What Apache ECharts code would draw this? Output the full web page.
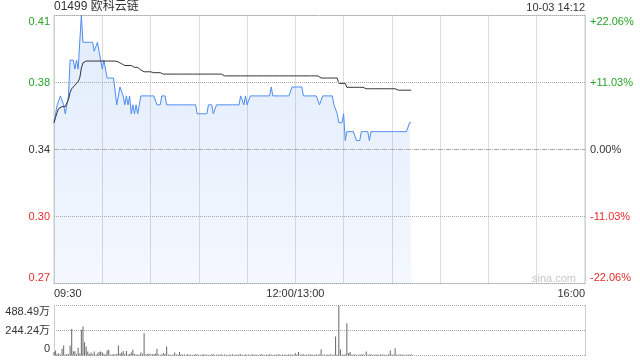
<!DOCTYPE html>
<html><head><meta charset="utf-8">
<script src="https://cdn.jsdelivr.net/npm/echarts@6/dist/echarts.min.js"></script>
<style>html,body{margin:0;padding:0;background:#fff}#c{width:640px;height:360px}</style>
</head><body><div id="c"></div>
<script>
// minute-by-minute last price (09:30 ... 14:12)
const prices = [
0.355,0.360,0.365,0.365,0.370,0.370,0.365,0.360,0.360,0.370,
0.390,0.390,0.390,0.385,0.390,0.385,0.400,0.415,0.400,0.400,
0.400,0.400,0.400,0.400,0.400,0.395,0.395,0.400,0.395,0.390,
0.385,0.390,0.385,0.380,0.380,0.380,0.380,0.380,0.380,0.365,
0.365,0.375,0.375,0.370,0.365,0.370,0.365,0.370,0.360,0.365,
0.360,0.365,0.360,0.365,0.370,0.370,0.370,0.370,0.370,0.370,
0.370,0.370,0.370,0.370,0.365,0.365,0.365,0.370,0.370,0.370,
0.365,0.365,0.365,0.365,0.365,0.365,0.365,0.365,0.365,0.365,
0.365,0.365,0.365,0.365,0.365,0.365,0.365,0.365,0.365,0.360,
0.360,0.360,0.360,0.360,0.360,0.360,0.365,0.365,0.365,0.360,
0.360,0.365,0.365,0.365,0.365,0.365,0.365,0.365,0.365,0.365,
0.365,0.365,0.365,0.365,0.365,0.365,0.370,0.370,0.365,0.370,
0.365,0.365,0.370,0.370,0.370,0.370,0.370,0.370,0.370,0.370,
0.370,0.370,0.370,0.370,0.370,0.375,0.370,0.370,0.370,0.370,
0.370,0.370,0.370,0.370,0.370,0.370,0.370,0.370,0.375,0.375,
0.375,0.375,0.375,0.375,0.375,0.370,0.370,0.370,0.370,0.370,
0.370,0.370,0.370,0.370,0.370,0.365,0.365,0.370,0.370,0.370,
0.370,0.370,0.370,0.370,0.365,0.365,0.360,0.355,0.355,0.355,
0.360,0.345,0.350,0.350,0.350,0.350,0.350,0.350,0.345,0.345,
0.345,0.350,0.350,0.350,0.350,0.350,0.345,0.350,0.350,0.350,
0.350,0.350,0.350,0.350,0.350,0.350,0.350,0.350,0.350,0.350,
0.350,0.350,0.350,0.350,0.350,0.350,0.350,0.350,0.350,0.350,
0.350,0.355,0.355
];
// running average price
const avgPrices = [
0.355,0.358,0.361,0.363,0.364,0.364,0.364,0.364,0.364,0.368,
0.372,0.374,0.375,0.376,0.377,0.378,0.380,0.3855,0.3885,0.3895,
0.3895,0.3895,0.3895,0.3895,0.3895,0.3895,0.3895,0.3895,0.3895,0.3895,
0.3895,0.3895,0.3895,0.3895,0.3895,0.3895,0.3895,0.3895,0.3895,0.389,
0.389,0.388,0.388,0.388,0.387,0.387,0.387,0.387,0.387,0.386,
0.386,0.386,0.386,0.3855,0.3845,0.3845,0.3835,0.3835,0.3835,0.3835,
0.3835,0.383,0.383,0.383,0.383,0.383,0.383,0.383,0.3822,0.3822,
0.3822,0.3822,0.3822,0.3822,0.3822,0.3822,0.3822,0.3822,0.3822,0.3822,
0.3822,0.3822,0.3822,0.3822,0.3822,0.3822,0.3822,0.3822,0.3822,0.3822,
0.3822,0.3822,0.3822,0.3822,0.3822,0.3822,0.3822,0.3822,0.3822,0.3822,
0.3822,0.3822,0.3822,0.3822,0.3822,0.3812,0.3812,0.3812,0.3812,0.3812,
0.3812,0.3812,0.3812,0.3812,0.3812,0.3812,0.3812,0.3812,0.3812,0.3812,
0.3812,0.3812,0.3812,0.3812,0.3812,0.3812,0.3812,0.3812,0.3812,0.3812,
0.3812,0.3812,0.3812,0.3812,0.3812,0.3812,0.3812,0.3812,0.3812,0.3812,
0.3812,0.3812,0.3812,0.3812,0.3812,0.3812,0.3812,0.3812,0.3812,0.3812,
0.3812,0.3812,0.3812,0.3812,0.3812,0.3812,0.3812,0.3812,0.3812,0.3812,
0.3812,0.3812,0.3812,0.3812,0.3812,0.3812,0.380,0.380,0.380,0.380,
0.380,0.380,0.380,0.380,0.380,0.380,0.380,0.377,0.377,0.377,
0.377,0.377,0.3748,0.3748,0.3748,0.3748,0.3748,0.3748,0.3748,0.3748,
0.3748,0.3748,0.3748,0.3748,0.374,0.374,0.374,0.374,0.374,0.374,
0.374,0.374,0.374,0.374,0.374,0.374,0.374,0.374,0.374,0.374,
0.374,0.374,0.374,0.3732,0.3732,0.3732,0.3732,0.3732,0.3732,0.3732,
0.3732,0.3732,0.3732
];
// volume per minute, in 万
const volumes = [
33,49,15,23,10,65,98,8,16,12,
98,260,42,42,12,75,20,251,283,130,
88,40,15,30,12,40,8,20,35,40,
30,15,10,50,55,8,10,12,10,15,
98,20,30,45,15,45,10,15,30,55,
15,10,10,8,30,15,218,10,15,20,
10,15,12,20,65,10,8,10,25,15,
88,10,8,5,8,30,10,8,33,12,
8,10,6,12,8,10,6,8,12,10,
8,6,10,12,8,10,6,8,10,12,
6,8,10,8,12,6,10,8,6,10,
8,12,6,10,8,10,12,8,6,10,
8,10,6,12,8,10,8,6,10,12,
8,6,10,8,12,10,6,8,10,8,
12,6,10,8,10,6,12,8,10,8,
23,10,33,8,10,12,6,10,8,12,
8,10,6,12,8,10,59,8,10,6,
10,8,12,6,10,186,8,488.49,59,10,
8,12,316,23,33,10,8,12,6,10,
8,10,12,6,39,8,10,12,6,10,
8,10,6,12,8,10,6,8,12,49,
10,8,72,10,6,12,8,10,6,8,
10,8,12
];
const timeLabels = ['09:30','','','','','12:00/13:00','','','','','','16:00'];
const priceLabels = ['0.27','0.30','0.34','0.38','0.41'];
const pctLabels = ['-22.06%','-11.03%','0.00%','+11.03%','+22.06%'];
const volLabels = ['0','244.24万','488.49万'];
const prevClose = 0.34;
const priceStep = 0.0375;   // one grid row of price
const volMax = 488.49;
const totalMinutes = 330;

const FONT = '"Liberation Sans", Arial, "Noto Sans CJK SC", sans-serif';
const GREEN = '#2aa22a', RED = '#e62b2b', DARK = '#333';
const GRIDC = '#aaa';
const styleKeys = ['rB','r','k','g','gT'];
const rich = {
  gT:{color:GREEN,fontSize:11,fontFamily:FONT,padding:[12,0,0,0]},
  g:{color:GREEN,fontSize:11,fontFamily:FONT},
  k:{color:DARK,fontSize:11,fontFamily:FONT},
  r:{color:RED,fontSize:11,fontFamily:FONT},
  rB:{color:RED,fontSize:11,fontFamily:FONT,padding:[0,0,12,0]}
};
const volRich = {
  t:{color:DARK,fontSize:11,fontFamily:FONT,padding:[13,0,0,0]},
  m:{color:DARK,fontSize:11,fontFamily:FONT},
  b:{color:DARK,fontSize:11,fontFamily:FONT,padding:[0,0,14,0]}
};
const volKeys = ['b','m','t'];
const toRow = p => (p - prevClose) / priceStep;
const dotted = {color:GRIDC,type:[1,1],width:1};

const chart = echarts.init(document.getElementById('c'));
chart.setOption({
  animation:false,
  backgroundColor:'#fff',
  textStyle:{fontFamily:FONT},
  title:[
    {text:'01499 欧科云链',left:54,top:1,padding:0,textStyle:{fontSize:12,fontWeight:'normal',color:DARK,fontFamily:FONT}},
    {text:'10-03 14:12',right:55,top:2,padding:0,textStyle:{fontSize:11,fontWeight:'normal',color:DARK,fontFamily:FONT}}
  ],
  graphic:[{type:'text',left:532,top:273,style:{text:'sina.com',fill:'#c8c8c8',fontSize:11,fontFamily:FONT}}],
  grid:[
    {left:54,right:55,top:15.5,height:268,show:true,borderColor:'#ccc',borderWidth:1},
    {left:54,right:55,top:305.5,height:50,show:false}
  ],
  xAxis:[
    {type:'value',gridIndex:0,min:0,max:totalMinutes,interval:30,
     axisLine:{show:false},axisTick:{show:false},
     splitLine:{show:true,lineStyle:{color:'#bbb',type:[1,1],width:1}},
     axisLabel:{margin:5,color:DARK,fontSize:11,fontFamily:FONT,alignMinLabel:'left',alignMaxLabel:'right',
       formatter:(v)=>timeLabels[Math.round(v/30)]||''}},
    {type:'value',gridIndex:1,min:0,max:totalMinutes,
     axisLine:{show:false},axisTick:{show:false},splitLine:{show:false},axisLabel:{show:false}}
  ],
  yAxis:[
    {type:'value',gridIndex:0,min:-2,max:2,interval:1,position:'left',
     axisLine:{show:false},axisTick:{show:false},
     splitLine:{show:true,lineStyle:dotted},
     axisLabel:{margin:4,rich:rich,formatter:(v)=>{const i=Math.round(v)+2;return '{'+styleKeys[i]+'|'+priceLabels[i]+'}';}}},
    {type:'value',gridIndex:0,min:-2,max:2,interval:1,position:'right',
     axisLine:{show:false},axisTick:{show:false},splitLine:{show:false},
     axisLabel:{margin:5,rich:rich,formatter:(v)=>{const i=Math.round(v)+2;return '{'+styleKeys[i]+'|'+pctLabels[i]+'}';}}},
    {type:'value',gridIndex:1,min:0,max:volMax,interval:volMax/2,position:'left',
     axisLine:{show:true,lineStyle:{color:'#ccc'}},axisTick:{show:false},
     splitLine:{show:true,lineStyle:dotted},
     axisLabel:{margin:4,rich:volRich,formatter:(v,idx)=>{const i=Math.round(v/(volMax/2));return '{'+volKeys[i]+'|'+volLabels[i]+'}';}}},
    {type:'value',gridIndex:1,min:0,max:volMax,interval:volMax/2,position:'right',
     axisLine:{show:true,lineStyle:{color:'#ccc'}},axisTick:{show:false},splitLine:{show:false},axisLabel:{show:false}}
  ],
  series:[
    {type:'line',xAxisIndex:0,yAxisIndex:0,symbol:'none',
     data:prices.map((p,i)=>[i,toRow(p)]),
     lineStyle:{color:'#4e8cf0',width:1},
     areaStyle:{origin:'start',color:new echarts.graphic.LinearGradient(0,0,0,1,[
       {offset:0,color:'rgba(78,140,240,0.24)'},{offset:1,color:'rgba(78,140,240,0.09)'}])},
     markLine:{silent:true,symbol:'none',label:{show:false},
       lineStyle:{color:'#aaa',type:[5,3],width:1},
       data:[
         {yAxis:0},
         {yAxis:1,lineStyle:dotted},
         {yAxis:-1,lineStyle:dotted}
       ]}
    },
    {type:'line',xAxisIndex:0,yAxisIndex:0,symbol:'none',
     data:avgPrices.map((p,i)=>[i,toRow(p)]),
     lineStyle:{color:'#333',width:1}},
    {type:'bar',xAxisIndex:1,yAxisIndex:2,barWidth:1,
     data:volumes.map((v,i)=>[i,v]),
     itemStyle:{color:'#666'}}
  ]
});
</script></body></html>
